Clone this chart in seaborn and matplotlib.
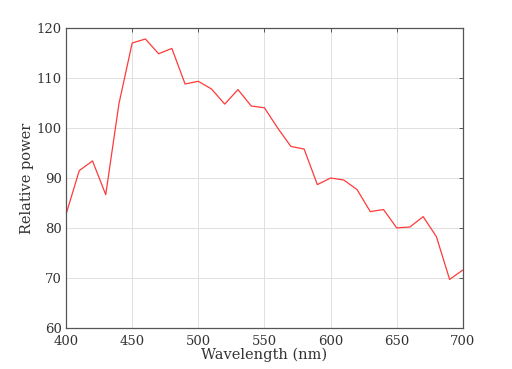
import matplotlib
matplotlib.use("Agg")
import matplotlib.pyplot as plt
import seaborn as sns
import pandas as pd

wavelength = [400, 410, 420, 430, 440, 450, 460, 470, 480, 490, 500, 510, 520, 530, 540,
              550, 560, 570, 580, 590, 600, 610, 620, 630, 640, 650, 660, 670, 680, 690, 700]
power = [82.75, 91.49, 93.43, 86.68, 104.87, 117.01, 117.81, 114.86, 115.92, 108.81, 109.35,
         107.80, 104.79, 107.69, 104.41, 104.05, 100.0, 96.33, 95.79, 88.69, 90.01, 89.60,
         87.70, 83.29, 83.70, 80.03, 80.21, 82.28, 78.28, 69.72, 71.61]
xticks = [400, 450, 500, 550, 600, 650, 700]
yticks = [60, 70, 80, 90, 100, 110, 120]

sns.set_theme(style="white")
plt.rcParams['font.family'] = ['DejaVu Serif']

df = pd.DataFrame({"Wavelength (nm)": wavelength, "Relative power": power})

fig = plt.figure(figsize=(5.12, 3.69), dpi=100)
ax = fig.add_axes([0.129, 0.111, 0.775, 0.813])
sns.lineplot(data=df, x="Wavelength (nm)", y="Relative power", ax=ax,
             color="#ff3a3a", linewidth=0.9)
ax.set_xlim(400, 700)
ax.set_ylim(60, 120)
ax.set_xticks(xticks)
ax.set_yticks(yticks)
ax.grid(True, color="#e0e0e0", linewidth=0.7)
for s in ax.spines.values():
    s.set_color("#555555")
    s.set_linewidth(0.9)
ax.tick_params(direction="in", length=3, width=0.7, color="#555555",
               labelsize=9.5, labelcolor="#333333", top=True, right=True)
ax.tick_params(axis="x", pad=5)
ax.tick_params(axis="y", pad=3)
ax.set_xlabel("Wavelength (nm)", fontsize=10.5, color="#333333", labelpad=0)
ax.set_ylabel("Relative power", fontsize=10.5, color="#333333", labelpad=2)
fig.savefig("out.png", dpi=100)
